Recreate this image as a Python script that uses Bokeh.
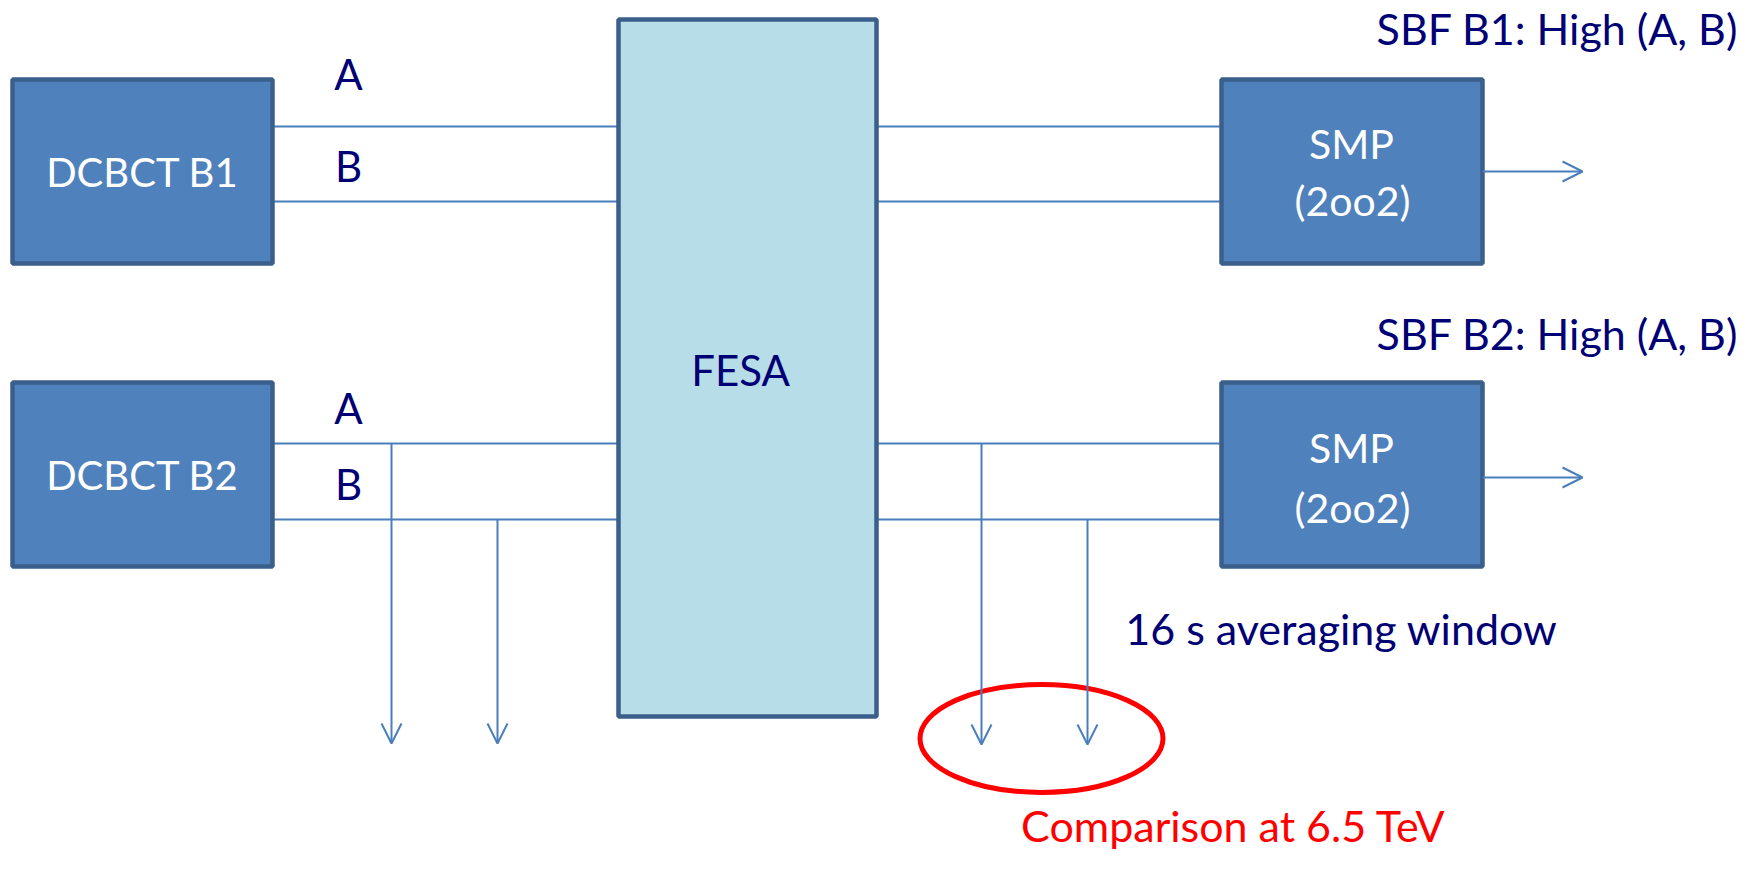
from bokeh.plotting import figure
from bokeh.models import Range1d, Arrow, OpenHead, ColumnDataSource
from bokeh.core.properties import value
from bokeh.embed import file_html
from bokeh.resources import INLINE

# ---- diagram content ----
box_names = ["DCBCT B1", "DCBCT B2", "FESA", "SMP B1", "SMP B2"]
box_left = [12, 12, 618, 1221, 1221]
box_right = [272, 272, 876, 1482, 1482]
box_top = [79, 382, 19, 79, 382]
box_bottom = [263, 566, 716, 263, 566]
box_fill = ["#4F81BD", "#4F81BD", "#B7DEE8", "#4F81BD", "#4F81BD"]

box_text = ["DCBCT B1", "DCBCT B2", "FESA", "SMP", "(2oo2)", "SMP", "(2oo2)"]
box_text_x = [142, 142, 740, 1351, 1352, 1351, 1352]
box_text_y = [171, 474, 369, 143, 200, 447, 507]
box_text_color = ["white", "white", "#000075", "white", "white", "white", "white"]
box_text_size = ["40px", "40px", "42px", "41px", "41px", "41px", "41px"]

chan_labels = ["A", "B", "A", "B"]
chan_x = [348, 348, 348, 348]
chan_y = [73, 165, 407, 483]

# signal lines (x0, x1, y)
sig_x0 = [272, 272, 272, 272, 876, 876, 876, 876]
sig_x1 = [618, 618, 618, 618, 1221, 1221, 1221, 1221]
sig_y = [126, 201, 443, 519, 126, 201, 443, 519]

# arrows (x0, y0, x1, y1)
arr_x0 = [1482, 1482, 391, 497, 981, 1087]
arr_y0 = [171, 477, 443, 519, 443, 519]
arr_x1 = [1582, 1582, 391, 497, 981, 1087]
arr_y1 = [171, 477, 743, 743, 744, 744]

notes = ["SBF B1: High (A, B)", "SBF B2: High (A, B)", "16 s averaging window", "Comparison at 6.5 TeV"]
notes_x = [1557, 1557, 1341, 1233]
notes_y = [28, 333, 628, 825]
notes_color = ["#000075", "#000075", "#000075", "#FF0000"]

ell_x, ell_y, ell_w, ell_h = [1041], [738], [243], [108]

W, H = 1738, 853
p = figure(width=W, height=H, output_backend="svg", toolbar_location=None,
           x_range=Range1d(0, W), y_range=Range1d(H, 0),
           min_border=0)
p.axis.visible = False
p.grid.visible = False
p.outline_line_color = None
p.background_fill_color = "white"

LINE = "#4A7EBB"
p.segment(x0=sig_x0, y0=sig_y, x1=sig_x1, y1=sig_y, line_color=LINE, line_width=2)

p.quad(left=box_left, right=box_right, top=box_top, bottom=box_bottom,
       fill_color=box_fill, line_color="#3A5F8B", line_width=4.5)

for x0, y0, x1, y1 in zip(arr_x0, arr_y0, arr_x1, arr_y1):
    p.add_layout(Arrow(x_start=x0, y_start=y0, x_end=x1, y_end=y1,
                       line_color=LINE, line_width=2,
                       end=OpenHead(size=20, line_color=LINE, line_width=2)))

p.ellipse(x=ell_x, y=ell_y, width=ell_w, height=ell_h, fill_alpha=0,
          line_color="#FF0000", line_width=5)

FONT = value("Lato")
bt = ColumnDataSource(dict(x=box_text_x, y=box_text_y, text=box_text,
                           color=box_text_color, size=box_text_size))
p.text(x="x", y="y", text="text", text_color="color", text_font_size="size",
       source=bt, text_font=FONT, text_align="center", text_baseline="middle")
p.text(x=chan_x, y=chan_y, text=chan_labels, text_color="#000075",
       text_font=FONT, text_font_size="42px", text_align="center", text_baseline="middle")
p.text(x=notes_x, y=notes_y, text=notes, text_color=notes_color,
       text_font=FONT, text_font_size="43px", text_align="center", text_baseline="middle")

open("out.html", "w").write(file_html(p, INLINE))
